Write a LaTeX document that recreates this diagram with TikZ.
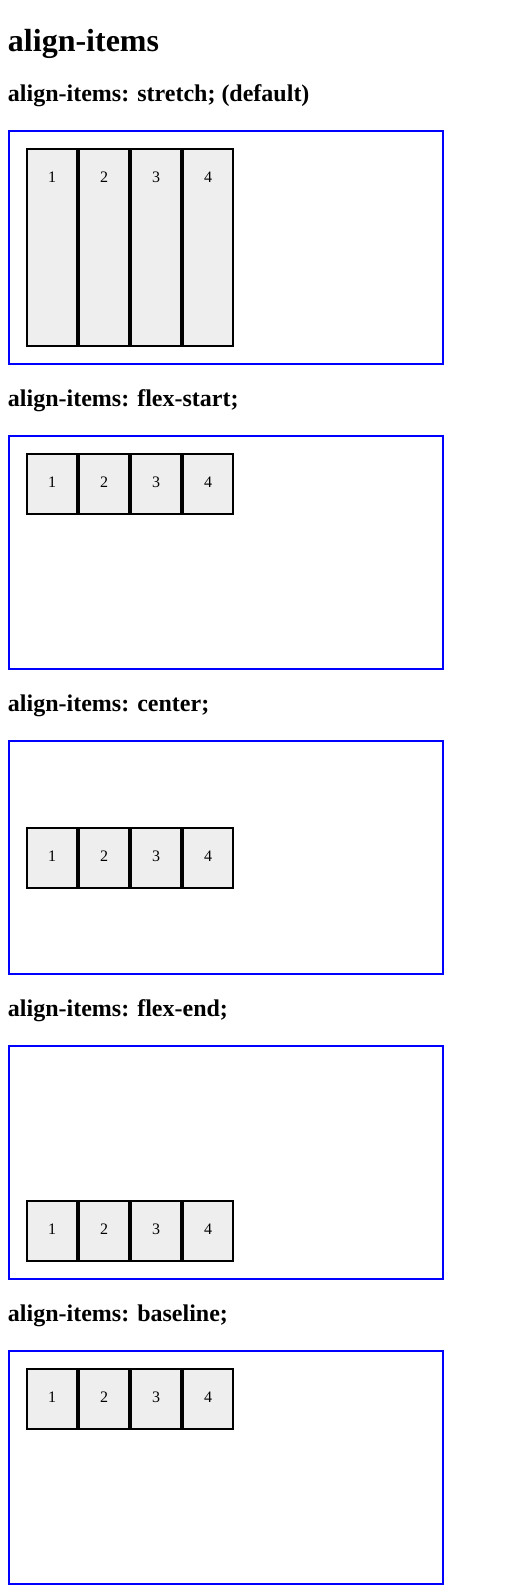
\documentclass[tikz,border=0pt]{standalone}
\usepackage{fontspec}
\setmainfont{Liberation Serif}
\definecolor{itemgray}{HTML}{EEEEEE}
\definecolor{boxblue}{HTML}{0000FF}
\begin{document}
\begin{tikzpicture}[x=1pt,y=-1pt,
  title/.style={anchor=base west, inner sep=0pt, outer sep=0pt, font=\fontsize{32}{38}\selectfont\bfseries},
  heading/.style={anchor=base west, inner sep=0pt, outer sep=0pt, font=\fontsize{24}{28}\selectfont\bfseries},
  box/.style={draw=boxblue, line width=2pt, inner sep=0pt, outer sep=0pt, minimum width=434pt, minimum height=233pt, anchor=north west},
  item/.style={draw=black, line width=2pt, fill=itemgray, inner sep=0pt, outer sep=0pt, minimum width=50pt, anchor=north west},
  num/.style={anchor=base, inner sep=0pt, outer sep=0pt, font=\fontsize{16}{19}\selectfont}]
\useasboundingbox (0,0) rectangle (522,1593);
\node[title] (title) at (8,51.5) {align-items};
\foreach \k/\txt/\top/\h in {0/{align-items: stretch; (default)}/18/199,
                             1/{align-items: flex-start;}/18/62,
                             2/{align-items: center;}/86.5/62,
                             3/{align-items: flex-end;}/155/62,
                             4/{align-items: baseline;}/18/62} {
  \pgfmathsetmacro\T{130+305*\k}
  \node[heading] (h\k) at (8,\T-29) {\txt};
  \node[box] (b\k) at (9,\T+1) {};
  \foreach \j in {1,...,4} {
    \pgfmathsetmacro\X{26+52*(\j-1)+1}
    \node[item, minimum height=\h-2] (i\k\j) at (\X,\T+\top+1) {};
    \node[num] (n\k\j) at (\X+25,\T+\top+34.5) {\j};
  }
}
\end{tikzpicture}
\end{document}
